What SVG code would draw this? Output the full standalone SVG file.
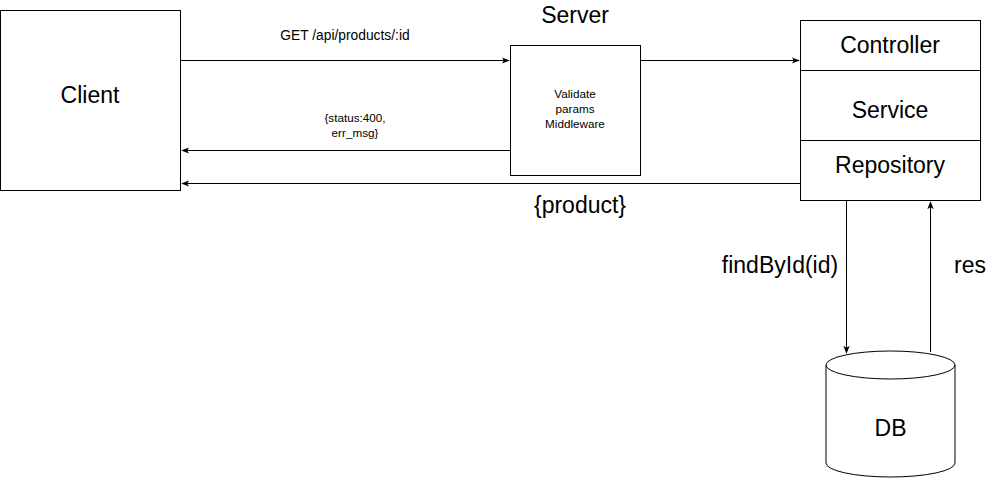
<svg xmlns="http://www.w3.org/2000/svg" width="1001" height="482" viewBox="0 0 1001 482">
<style>
.box{fill:#fff;stroke:#000;stroke-width:1}
.t{font-family:"Liberation Sans",Arial,sans-serif;fill:#000;text-anchor:middle}
.big{font-size:23px}
.mid{font-size:13.8px}
.sm{font-size:11.7px}
.ln{fill:none;stroke:#000;stroke-width:1}
</style>
<defs>
<marker id="ahk" viewBox="0 0 10 10" refX="9" refY="5" markerWidth="8" markerHeight="8" markerUnits="userSpaceOnUse" orient="auto">
<path d="M0,1 L10,5 L0,9 L2.5,5 Z" fill="#000"/>
</marker>
</defs>
<rect width="1001" height="482" fill="#fff"/>
<g id="connectors">
<line class="ln" x1="180.5" y1="60.5" x2="509" y2="60.5" marker-end="url(#ahk)"/>
<line class="ln" x1="640.5" y1="60.5" x2="799" y2="60.5" marker-end="url(#ahk)"/>
<line class="ln" x1="510.5" y1="150.5" x2="182" y2="150.5" marker-end="url(#ahk)"/>
<line class="ln" x1="800" y1="183.5" x2="182" y2="183.5" stroke="#333" marker-end="url(#ahk)"/>
<line class="ln" x1="846.5" y1="200.5" x2="846.5" y2="353" stroke="#222" marker-end="url(#ahk)"/>
<line class="ln" x1="930.5" y1="352" x2="930.5" y2="202" stroke="#222" marker-end="url(#ahk)"/>
<text class="t mid" x="345" y="39.5">GET /api/products/:id</text>
<text class="t sm" x="355" y="121.5">{status:400,</text>
<text class="t sm" x="355" y="136.5">err_msg}</text>
<text class="t big" x="580" y="213">{product}</text>
<text class="t big" x="780" y="273">findById(id)</text>
<text class="t big" x="970" y="273">res</text>
</g>
<g id="client">
<rect class="box" x="0.5" y="10.5" width="180" height="180"/>
<text class="t big" x="90" y="102.5">Client</text>
</g>
<g id="server-label">
<text class="t big" x="575" y="22.5">Server</text>
</g>
<g id="middleware">
<rect class="box" x="510.5" y="45.5" width="130" height="130"/>
<text class="t sm" x="575" y="97.5">Validate</text>
<text class="t sm" x="575" y="112.5">params</text>
<text class="t sm" x="575" y="127.5">Middleware</text>
</g>
<g id="layers">
<rect class="box" x="800.5" y="20.5" width="180" height="180"/>
<line class="ln" x1="800.5" y1="70.5" x2="980.5" y2="70.5"/>
<line class="ln" x1="800.5" y1="140.5" x2="980.5" y2="140.5"/>
<text class="t big" x="890" y="52.5">Controller</text>
<text class="t big" x="890" y="117.5">Service</text>
<text class="t big" x="890" y="172.5">Repository</text>
</g>
<g id="db">
<path class="box" d="M826,365 A64.5,14 0 0 1 955,365 L955,463 A64.5,14 0 0 1 826,463 Z"/>
<path class="ln" d="M826,365 A64.5,14 0 0 0 955,365"/>
<text class="t big" x="890.5" y="435.5">DB</text>
</g>
</svg>
